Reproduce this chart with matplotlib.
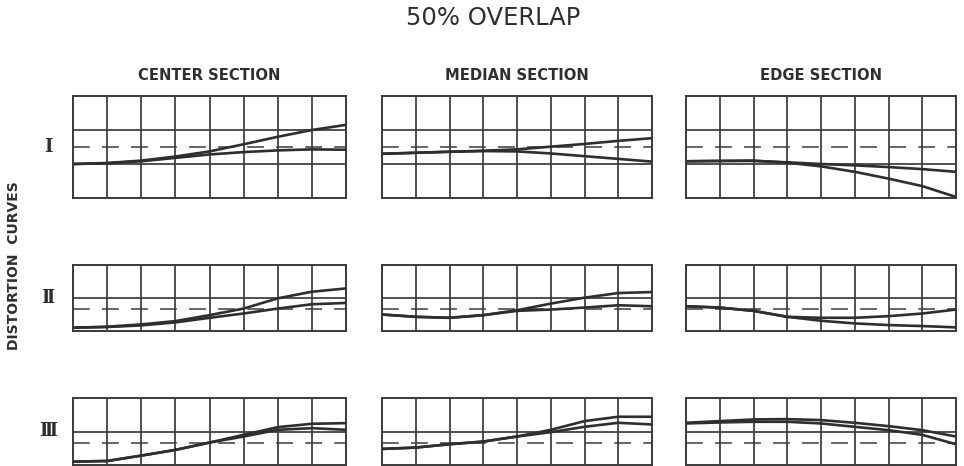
import numpy as np
import matplotlib
matplotlib.use("Agg")
import matplotlib.pyplot as plt

# ---- data (grid units: x = column index 0..8, y = cells above the panel floor) ----
x = [0, 1, 2, 3, 4, 5, 6, 7, 8]

sections = ["CENTER SECTION", "MEDIAN SECTION", "EDGE SECTION"]
row_labels = ["\u2160", "\u2161", "\u2162"]
row_heights = [3, 2, 2]          # number of grid cells stacked in each row
dash_levels = [1.5, 0.67, 0.67]  # reference (dashed) level in each row

# row I
c1_a = [1.00, 1.03, 1.10, 1.22, 1.37, 1.58, 1.80, 2.00, 2.15]
c1_b = [1.00, 1.02, 1.08, 1.18, 1.28, 1.35, 1.40, 1.43, 1.42]
m1_a = [1.30, 1.33, 1.36, 1.39, 1.43, 1.51, 1.59, 1.68, 1.76]
m1_b = [1.30, 1.33, 1.36, 1.38, 1.37, 1.31, 1.23, 1.15, 1.07]
e1_a = [1.08, 1.09, 1.09, 1.05, 1.00, 0.96, 0.91, 0.85, 0.77]
e1_b = [1.08, 1.09, 1.10, 1.04, 0.93, 0.77, 0.57, 0.35, 0.03]

# row II
c2_a = [0.10, 0.13, 0.20, 0.30, 0.48, 0.68, 0.99, 1.19, 1.29]
c2_b = [0.10, 0.12, 0.17, 0.26, 0.40, 0.53, 0.68, 0.81, 0.85]
m2_a = [0.50, 0.43, 0.40, 0.48, 0.63, 0.83, 1.01, 1.15, 1.18]
m2_b = [0.50, 0.43, 0.40, 0.48, 0.61, 0.65, 0.71, 0.78, 0.75]
e2_a = [0.75, 0.71, 0.61, 0.43, 0.40, 0.40, 0.45, 0.53, 0.65]
e2_b = [0.75, 0.71, 0.61, 0.43, 0.31, 0.23, 0.18, 0.15, 0.11]

# row III
c3_a = [0.10, 0.12, 0.28, 0.45, 0.67, 0.90, 1.13, 1.23, 1.25]
c3_b = [0.10, 0.12, 0.28, 0.45, 0.67, 0.85, 1.05, 1.10, 1.05]
m3_a = [0.48, 0.52, 0.62, 0.70, 0.85, 1.05, 1.31, 1.44, 1.44]
m3_b = [0.48, 0.52, 0.62, 0.70, 0.85, 0.98, 1.14, 1.26, 1.21]
e3_a = [1.26, 1.31, 1.36, 1.37, 1.34, 1.26, 1.16, 1.04, 0.85]
e3_b = [1.24, 1.27, 1.29, 1.29, 1.24, 1.14, 1.04, 0.90, 0.62]

curves = [
    [(c1_a, c1_b), (m1_a, m1_b), (e1_a, e1_b)],
    [(c2_a, c2_b), (m2_a, m2_b), (e2_a, e2_b)],
    [(c3_a, c3_b), (m3_a, m3_b), (e3_a, e3_b)],
]

# ---- layout (pixels) ----
W, H = 964, 466
col_px = [(73, 346), (382, 652), (686, 956)]
row_px = [(96, 198), (265, 331), (398, 465)]

ink = "#2e2e2e"
grid_ink = "#3a3a3a"

fig = plt.figure(figsize=(W / 100, H / 100), dpi=100)
fig.patch.set_facecolor("white")

for r, (top, bot) in enumerate(row_px):
    for c, (left, right) in enumerate(col_px):
        ax = fig.add_axes([left / W, 1 - bot / H, (right - left) / W, (bot - top) / H])
        ax.set_xlim(0, 8)
        ax.set_ylim(0, row_heights[r])
        ax.set_xticks([])
        ax.set_yticks([])
        for s in ax.spines.values():
            s.set_color(grid_ink)
            s.set_linewidth(1.4)
        for gx in range(1, 8):
            ax.axvline(gx, color=grid_ink, lw=1.25, zorder=1)
        for gy in range(1, row_heights[r]):
            ax.axhline(gy, color=grid_ink, lw=1.25, zorder=1)
        ax.axhline(dash_levels[r], color=grid_ink, lw=1.1,
                   dashes=(11, 8), zorder=1)
        ya, yb = curves[r][c]
        ax.plot(x, ya, color=ink, lw=1.9, zorder=3, solid_capstyle="butt",
                solid_joinstyle="round")
        ax.plot(x, yb, color=ink, lw=1.9, zorder=3, solid_capstyle="butt",
                solid_joinstyle="round")

        if r == 0:
            fig.text((left + right) / 2 / W, 1 - 75 / H, sections[c],
                     ha="center", va="center", fontsize=10.6,
                     fontweight="bold", family="DejaVu Sans", color=ink)

# row numerals
for r, (top, bot) in enumerate(row_px):
    yc = (top + bot) / 2
    if r == 0:
        yc = 147
    fig.text(48 / W, 1 - yc / H, row_labels[r], ha="center", va="center",
             fontsize=13, fontweight="bold", family="DejaVu Serif", color=ink)

fig.text(14 / W, 1 - 266 / H, "DISTORTION  CURVES", rotation=90,
         ha="center", va="center", fontsize=10, fontweight="bold",
         family="DejaVu Sans", color=ink)

fig.text(493 / W, 1 - 18 / H, "50% OVERLAP", ha="center", va="center",
         fontsize=17.5, family="DejaVu Sans", color=ink)

fig.savefig("out.png", dpi=100, facecolor="white")
